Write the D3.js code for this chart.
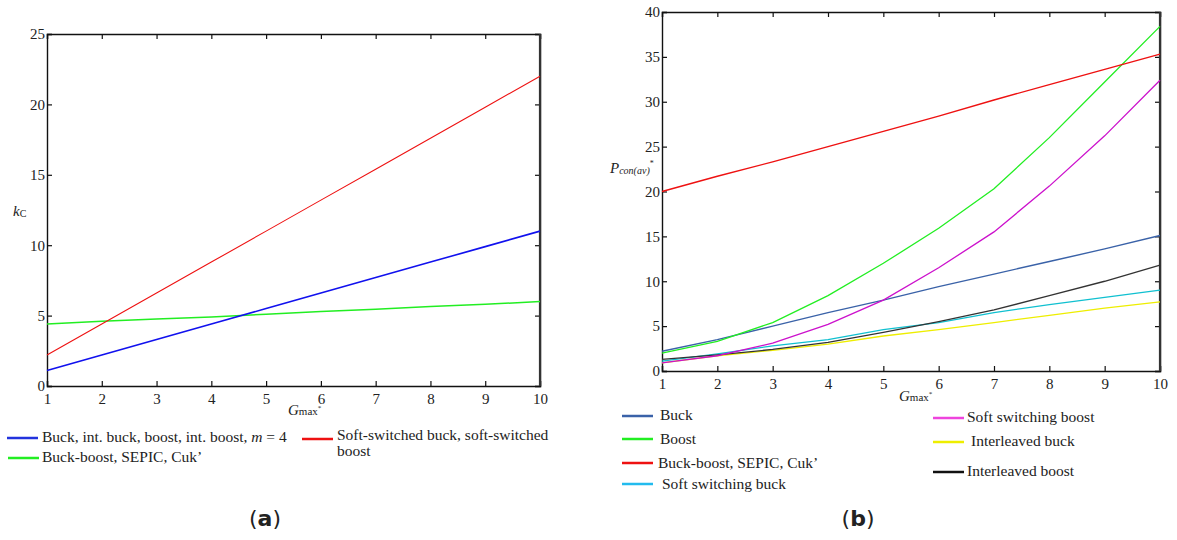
<!DOCTYPE html>
<html>
<head>
<meta charset="utf-8">
<script src="https://cdn.jsdelivr.net/npm/d3@7"></script>
<style>
  body { margin: 0; background: #fff; }
  svg text { font-family: "Liberation Serif", "DejaVu Serif", serif; fill: #222; }
</style>
</head>
<body>
<svg id="vis"></svg>
<script>
// values, one entry per integer G_max* from 1 to 10
const gMax = [1, 2, 3, 4, 5, 6, 7, 8, 9, 10];

// panel (a): k_C
const kcBuck = [1.1, 2.2, 3.3, 4.4, 5.5, 6.6, 7.7, 8.8, 9.9, 11.0];
const kcSoft = [2.2, 4.4, 6.6, 8.8, 11.0, 13.2, 15.4, 17.6, 19.8, 22.0];
const kcBuckBoost = [4.4, 4.6, 4.75, 4.9, 5.1, 5.3, 5.45, 5.65, 5.8, 6.0];

// panel (b): P_con(av)*
const pBuck = [2.2, 3.5, 5.0, 6.5, 7.9, 9.4, 10.8, 12.2, 13.6, 15.1];
const pBoost = [2.0, 3.3, 5.4, 8.4, 12.0, 15.9, 20.3, 26.0, 32.2, 38.4];
const pBuckBoost = [20.0, 21.7, 23.3, 25.0, 26.7, 28.4, 30.2, 31.9, 33.6, 35.3];
const pSoftBuck = [1.1, 1.9, 2.8, 3.5, 4.6, 5.4, 6.5, 7.4, 8.2, 9.0];
const pSoftBoost = [0.9, 1.7, 3.1, 5.2, 7.9, 11.5, 15.5, 20.6, 26.2, 32.4];
const pIntBuck = [0.9, 1.7, 2.3, 3.0, 3.9, 4.6, 5.4, 6.2, 7.0, 7.7];
const pIntBoost = [1.3, 1.8, 2.4, 3.2, 4.3, 5.5, 6.8, 8.4, 10.0, 11.8];

const yTicksA = [0, 5, 10, 15, 20, 25];
const yTicksB = [0, 5, 10, 15, 20, 25, 30, 35, 40];

const width = 1177;
const height = 540;

const svg = d3.select("#vis").attr("width", width).attr("height", height);

// draws a boxed axis frame with inward ticks on all four sides
function drawFrame(x, y, yTicks) {
  const [x0, x1] = x.range();
  const [y0, y1] = y.range();
  const g = svg.append("g");

  g.append("g")
    .attr("transform", `translate(0,${y0})`)
    .call(d3.axisBottom(x).tickValues(gMax).tickSize(-5).tickPadding(7))
    .call(a => a.selectAll("text").attr("font-size", 15));
  g.append("g")
    .attr("transform", `translate(0,${y1})`)
    .call(d3.axisTop(x).tickValues(gMax).tickSize(-5).tickFormat(""));
  g.append("g")
    .attr("transform", `translate(${x0},0)`)
    .call(d3.axisLeft(y).tickValues(yTicks).tickSize(-5).tickPadding(2))
    .call(a => a.selectAll("text").attr("font-size", 15));
  g.append("g")
    .attr("transform", `translate(${x1},0)`)
    .call(d3.axisRight(y).tickValues(yTicks).tickSize(-5).tickFormat(""));

  g.selectAll(".domain").attr("stroke", "#111").attr("stroke-width", 1.4);
  g.selectAll(".tick line").attr("stroke", "#111").attr("stroke-width", 1.2);
  g.selectAll("text").attr("font-family", "Liberation Serif").attr("fill", "#222");
  // right edge is drawn heavier in the picture
  g.append("line")
    .attr("x1", x1).attr("x2", x1).attr("y1", y0).attr("y2", y1)
    .attr("stroke", "#333").attr("stroke-width", 2.2);
}

function drawLine(x, y, values, color, w) {
  const line = d3.line().x((d, i) => x(gMax[i])).y(d => y(d));
  svg.append("path")
    .datum(values)
    .attr("d", line)
    .attr("fill", "none")
    .attr("stroke", color)
    .attr("stroke-width", w);
}

function gLabel(cx, cy) {
  const t = svg.append("text").attr("x", cx).attr("y", cy).attr("font-size", 15);
  t.append("tspan").attr("font-style", "italic").text("G");
  t.append("tspan").attr("font-size", 11).text("max");
  t.append("tspan").attr("font-size", 7).attr("dy", -5).text("*");
}

// legend sample line and its label
function legendItem(lx, ly, color, tx, ty, label) {
  svg.append("line")
    .attr("x1", lx).attr("x2", lx + 31).attr("y1", ly).attr("y2", ly)
    .attr("stroke", color).attr("stroke-width", 2.5);
  return svg.append("text")
    .attr("x", tx).attr("y", ty)
    .attr("font-size", 15.5)
    .text(label);
}

function panelTitle(cx, letter) {
  const t = svg.append("text").attr("x", cx).attr("y", 526).attr("text-anchor", "middle")
    .attr("font-size", 22);
  t.append("tspan").attr("font-family", "DejaVu Sans").text("(");
  t.append("tspan").attr("font-family", "DejaVu Sans").attr("font-weight", "bold").text(letter);
  t.append("tspan").attr("font-family", "DejaVu Sans").text(")");
}

// ---------- panel (a)
const xA = d3.scaleLinear().domain([1, 10]).range([47, 540]);
const yA = d3.scaleLinear().domain([0, 25]).range([386, 34]);
drawFrame(xA, yA, yTicksA);
drawLine(xA, yA, kcBuckBoost, "#22ee22", 1.5);
drawLine(xA, yA, kcBuck, "#1111ee", 1.6);
drawLine(xA, yA, kcSoft, "#ee1111", 1.1);

const kLab = svg.append("text").attr("x", 13).attr("y", 216).attr("font-size", 15);
kLab.append("tspan").attr("font-style", "italic").text("k");
kLab.append("tspan").attr("font-size", 10).attr("dy", 1).text("C");
gLabel(288, 415);

const la = legendItem(7, 438, "#2233dd", 42, 442, "Buck, int. buck, boost, int. boost, ");
la.append("tspan").attr("font-style", "italic").text("m");
la.append("tspan").text(" = 4");
legendItem(8, 458, "#22ee22", 42, 462, "Buck-boost, SEPIC, Cuk\u2019");
legendItem(302, 439, "#ee1111", 337, 440, "Soft-switched buck, soft-switched");
svg.append("text").attr("x", 337).attr("y", 456).attr("font-size", 15.5).text("boost");

panelTitle(265, "a");

// ---------- panel (b)
const xB = d3.scaleLinear().domain([1, 10]).range([662, 1160]);
const yB = d3.scaleLinear().domain([0, 40]).range([371, 12]);
drawFrame(xB, yB, yTicksB);
drawLine(xB, yB, pIntBuck, "#eeee00", 1.3);
drawLine(xB, yB, pSoftBuck, "#10c0d0", 1.3);
drawLine(xB, yB, pIntBoost, "#333333", 1.3);
drawLine(xB, yB, pBuck, "#3a62a8", 1.4);
drawLine(xB, yB, pSoftBoost, "#cc11cc", 1.3);
drawLine(xB, yB, pBoost, "#22ee22", 1.3);
drawLine(xB, yB, pBuckBoost, "#ee1111", 1.4);

const pLab = svg.append("text").attr("x", 610).attr("y", 173).attr("font-size", 15);
pLab.append("tspan").attr("font-style", "italic").text("P");
pLab.append("tspan").attr("font-style", "italic").attr("font-size", 10).attr("dy", 1).text("con(av)");
pLab.append("tspan").attr("font-size", 8).attr("dy", -8).text("*");
gLabel(899, 401);

legendItem(622, 416, "#3a62a8", 660, 420, "Buck");
legendItem(622, 439, "#22ee22", 660, 444, "Boost");
legendItem(622, 463, "#ee1111", 658, 468, "Buck-boost, SEPIC, Cuk\u2019");
legendItem(622, 484, "#22bbee", 662, 489, "Soft switching buck");
legendItem(933, 418, "#ee44dd", 967, 422, "Soft switching boost");
legendItem(933, 442, "#eeee00", 971, 446, "Interleaved buck");
legendItem(933, 472, "#111111", 967, 476, "Interleaved boost");

panelTitle(858, "b");
</script>
</body>
</html>
